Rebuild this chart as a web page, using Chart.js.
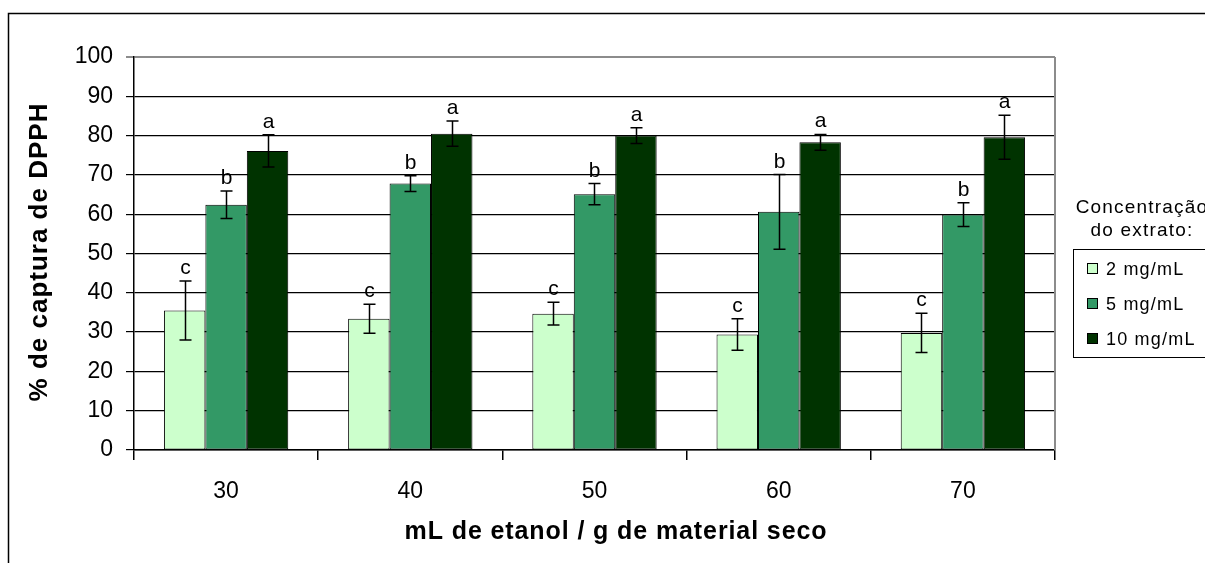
<!DOCTYPE html>
<html>
<head>
<meta charset="utf-8">
<title>% de captura de DPPH</title>
<script src="https://cdn.jsdelivr.net/npm/chart.js@4.4.1/dist/chart.umd.min.js"></script>
<style>
  html, body { margin: 0; padding: 0; background: #ffffff; }
  #wrap { width: 1205px; height: 563px; position: relative; }
  canvas { display: block; }
</style>
</head>
<body>
<div id="wrap"><canvas id="chart" width="1205" height="563"></canvas></div>
<script>
// Ethanol ratio (mL / g dry material) on the x axis
const categories = ['30', '40', '50', '60', '70'];

// Extract concentration series
const seriesNames = ['2 mg/mL', '5 mg/mL', '10 mg/mL'];
const values2  = [35.5, 33.4, 34.7, 29.4, 29.8];
const values5  = [62.4, 67.8, 65.1, 60.6, 59.9];
const values10 = [76.1, 80.5, 80.0, 78.3, 79.6];

// Error bar half-widths
const err2  = [7.5, 3.7, 2.9, 4.0, 5.0];
const err5  = [3.5, 2.0, 2.7, 9.5, 3.0];
const err10 = [4.1, 3.2, 2.0, 2.0, 5.6];

// Significance letters for each series
const letters2  = ['c', 'c', 'c', 'c', 'c'];
const letters5  = ['b', 'b', 'b', 'b', 'b'];
const letters10 = ['a', 'a', 'a', 'a', 'a'];

// Y axis ticks
const yTicks = [0, 10, 20, 30, 40, 50, 60, 70, 80, 90, 100];

const FONT = "'Liberation Sans', Arial, sans-serif";
const colors = ['#CCFFCC', '#339966', '#003300'];
const errs = [err2, err5, err10];
const letters = [letters2, letters5, letters10];

function withSpacing(ctx, spacing, fn) {
  const prev = ctx.letterSpacing;
  try { ctx.letterSpacing = spacing + 'px'; } catch (e) {}
  fn();
  try { ctx.letterSpacing = prev || '0px'; } catch (e) {}
}

// Error bars and letters above each bar
const errorBarPlugin = {
  id: 'errorBars',
  afterDatasetsDraw(chart) {
    const ctx = chart.ctx;
    const yScale = chart.scales.y;
    ctx.save();
    chart.data.datasets.forEach((ds, di) => {
      const meta = chart.getDatasetMeta(di);
      meta.data.forEach((bar, i) => {
        const v = ds.data[i];
        const e = errs[di][i];
        const yTop = yScale.getPixelForValue(v + e);
        const yBot = yScale.getPixelForValue(v - e);
        const x = Math.round(bar.x) + 0.5;
        ctx.strokeStyle = '#000';
        ctx.lineWidth = 1.5;
        ctx.beginPath();
        ctx.moveTo(x, yTop); ctx.lineTo(x, yBot);
        ctx.moveTo(x - 6, yTop); ctx.lineTo(x + 6, yTop);
        ctx.moveTo(x - 6, yBot); ctx.lineTo(x + 6, yBot);
        ctx.stroke();
        ctx.fillStyle = '#000';
        ctx.font = '21px ' + FONT;
        ctx.textAlign = 'center';
        ctx.textBaseline = 'alphabetic';
        ctx.fillText(letters[di][i], x, yTop - 7);
      });
    });
    ctx.restore();
  }
};

// Outer frame, plot border, axis titles and legend box
const decorPlugin = {
  id: 'decor',
  afterDraw(chart) {
    const ctx = chart.ctx;
    const area = chart.chartArea;
    ctx.save();

    // outer frame (top and left edges)
    ctx.strokeStyle = '#000';
    ctx.lineWidth = 1.5;
    ctx.beginPath();
    ctx.moveTo(8.5, 563); ctx.lineTo(8.5, 13.5); ctx.lineTo(1205, 13.5);
    ctx.stroke();

    // plot area border on the right
    ctx.strokeStyle = '#8c8c8c';
    ctx.lineWidth = 2;
    ctx.beginPath();
    ctx.moveTo(area.right, area.top); ctx.lineTo(area.right, area.bottom);
    ctx.stroke();

    ctx.fillStyle = '#000';
    // x axis title
    ctx.font = 'bold 25px ' + FONT;
    ctx.textAlign = 'center';
    ctx.textBaseline = 'middle';
    withSpacing(ctx, 0.9, () => {
      ctx.fillText('mL de etanol / g de material seco', 616, 532);
    });

    // y axis title
    ctx.font = 'bold 26px ' + FONT;
    ctx.save();
    ctx.translate(40, 252);
    ctx.rotate(-Math.PI / 2);
    withSpacing(ctx, 1.0, () => {
      ctx.fillText('% de captura de DPPH', 0, 0);
    });
    ctx.restore();

    // legend title
    ctx.font = '19px ' + FONT;
    ctx.textAlign = 'center';
    ctx.textBaseline = 'middle';
    withSpacing(ctx, 1.2, () => {
      ctx.fillText('Concentração', 1142, 208);
      ctx.fillText('do extrato:', 1142, 231);
    });

    // legend box
    ctx.strokeStyle = '#000';
    ctx.lineWidth = 1;
    ctx.strokeRect(1073.5, 249.5, 150, 108);
    const rows = [269, 304, 339];
    ctx.font = '18px ' + FONT;
    ctx.textAlign = 'left';
    chart.data.datasets.forEach((ds, di) => {
      const y = rows[di];
      ctx.fillStyle = ds.backgroundColor;
      ctx.fillRect(1088, y - 5, 9, 9);
      ctx.strokeStyle = '#000';
      ctx.strokeRect(1087.5, y - 5.5, 10, 10);
      ctx.fillStyle = '#000';
      withSpacing(ctx, 1.2, () => {
        ctx.fillText(ds.label, 1106, y + 1);
      });
    });
    ctx.restore();
  }
};

const datasets = [values2, values5, values10].map((vals, i) => ({
  label: seriesNames[i],
  data: vals,
  backgroundColor: colors[i],
  borderColor: '#000',
  borderWidth: 1,
  borderSkipped: false,
  categoryPercentage: 0.675,
  barPercentage: 1.0
}));

new Chart(document.getElementById('chart'), {
  type: 'bar',
  data: { labels: categories, datasets },
  options: {
    responsive: false,
    animation: false,
    devicePixelRatio: 1,
    layout: { padding: { left: 0, top: 57, right: 150, bottom: 0 } },
    plugins: { legend: { display: false }, tooltip: { enabled: false } },
    scales: {
      x: {
        afterFit(scale) { scale.height = 113; },
        grid: {
          offset: true,
          drawOnChartArea: false,
          drawTicks: true,
          tickLength: 10,
          color: '#000',
          lineWidth: 1.5
        },
        border: { display: true, color: '#000', width: 1.5 },
        ticks: {
          color: '#000',
          font: { family: FONT, size: 23 },
          padding: 18
        }
      },
      y: {
        min: 0,
        max: 100,
        afterFit(scale) { scale.width = 134; },
        afterBuildTicks(scale) { scale.ticks = yTicks.map(v => ({ value: v })); },
        grid: {
          drawOnChartArea: true,
          tickLength: 8,
          color: ctx => (ctx.tick && ctx.tick.value === 100) ? '#8c8c8c' : '#000',
          lineWidth: ctx => (ctx.tick && ctx.tick.value === 100) ? 2 : 1.2
        },
        border: { display: true, color: '#000', width: 1.5 },
        ticks: {
          color: '#000',
          font: { family: FONT, size: 23 },
          padding: 13
        }
      }
    }
  },
  plugins: [errorBarPlugin, decorPlugin]
});
</script>
</body>
</html>
